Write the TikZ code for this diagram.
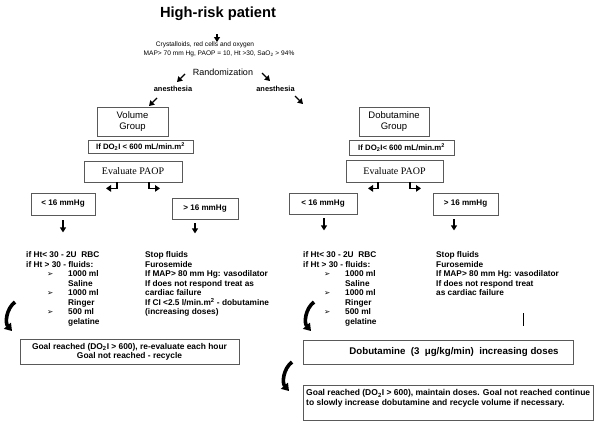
\documentclass[tikz,border=0pt]{standalone}
\usepackage{fontspec}
\setmainfont{Liberation Sans}
\newfontfamily\seriffam{Liberation Serif}
\newfontfamily\dejavufam{DejaVu Sans}
\usetikzlibrary{arrows.meta}
\newcommand\bulx{\makebox[42pt][l]{\hspace*{21pt}{\dejavufam\fontsize{7.5}{7.5}\selectfont ➢}}}
\newcommand\indx{\hspace*{42pt}}
\begin{document}
\begin{tikzpicture}[x=1pt,y=-1pt,
  box/.style={draw=black!65, line width=0.8pt, inner sep=0pt},
  arr/.style={line width=1.4pt, -{Triangle[length=5pt,width=6pt]}},
  bent/.style={line width=1.5pt, -{Triangle[length=5pt,width=6.5pt]}},
  curvy/.style={line width=3.6pt, -{Triangle[length=7pt,width=9pt]}},
  tiny/.style={font=\fontsize{6.6}{8}\selectfont, inner sep=0pt},
  body/.style={font=\bfseries\fontsize{8.3}{9.5}\selectfont, inner sep=0pt, align=left, anchor=north west},
  lab/.style={font=\bfseries\fontsize{7.4}{9}\selectfont, inner sep=0pt},
  small/.style={font=\bfseries\fontsize{8.1}{9}\selectfont},
]
\useasboundingbox[fill=white] (0,0) rectangle (600,423);

% title and top text
\node[font=\bfseries\fontsize{14.7}{16}\selectfont, inner sep=0pt] (title) at (218,13.5) {High-risk patient};
\node[tiny] (cry) at (205,44.5) {Crystalloids, red cells and oxygen};
\node[tiny] (map) at (219,53.5) {MAP> 70 mm Hg, PAOP = 10, Ht >30, SaO\textsubscript{2} > 94\%};
\coordinate (ta) at (217,34);
\coordinate (tb) at (217,42);
\draw[arr] (ta) -- (tb);
\node[font=\fontsize{9}{10}\selectfont, inner sep=0pt] (rand) at (223,72) {Randomization};
\node[lab] (anl) at (173,89) {anesthesia};
\node[lab] (anr) at (275.5,89) {anesthesia};
\coordinate (r1a) at (185,74); \coordinate (r1b) at (177,82);
\coordinate (r2a) at (262,73); \coordinate (r2b) at (270,81);
\coordinate (r3a) at (157,98); \coordinate (r3b) at (149,106);
\coordinate (r4a) at (295,96); \coordinate (r4b) at (303,104);
\draw[arr] (r1a) -- (r1b);
\draw[arr] (r2a) -- (r2b);
\draw[arr] (r3a) -- (r3b);
\draw[arr] (r4a) -- (r4b);

% left branch
\node[box, minimum width=71pt, minimum height=29pt, align=center, font=\fontsize{9.5}{11}\selectfont] (vg) at (132.5,121.5) {Volume\\Group};
\node[box, minimum width=105pt, minimum height=12.5pt, font=\bfseries\fontsize{7.8}{8}\selectfont] (dol) at (140.5,147) {If DO\textsubscript{2}I < 600 mL/min.m\textsuperscript{2}};
\node[box, minimum width=98pt, minimum height=21pt, font=\seriffam\fontsize{10}{12}\selectfont] (evl) at (133,171.5) {Evaluate PAOP};
\node[box, minimum width=64pt, minimum height=22pt, small] (ltl) at (63,204) {\raisebox{1.5pt}{< 16 mmHg}};
\node[box, minimum width=66pt, minimum height=21pt, small] (lgl) at (205,208.5) {> 16 mmHg};
\draw[bent] ([xshift=-16pt]evl.south) -- ++(0,6) -- ++(-11,0);
\draw[bent] ([xshift=16pt]evl.south) -- ++(0,6) -- ++(11,0);
\draw[arr] ([yshift=-5pt]ltl.south) -- ++(0,12);
\draw[arr] ([xshift=-10pt,yshift=-4pt]lgl.south) -- ++(0,10);

% right branch
\node[box, minimum width=70pt, minimum height=29pt, align=center, font=\fontsize{9.5}{11}\selectfont] (dg) at (394,121.5) {Dobutamine\\Group};
\node[box, minimum width=105pt, minimum height=15pt, font=\bfseries\fontsize{7.8}{8}\selectfont] (dor) at (401.5,148) {If DO\textsubscript{2}I< 600 mL/min.m\textsuperscript{2}};
\node[box, minimum width=97pt, minimum height=22pt, font=\seriffam\fontsize{10}{12}\selectfont] (evr) at (394.5,171) {Evaluate PAOP};
\node[box, minimum width=68pt, minimum height=21pt, small] (ltr) at (323,203.5) {\raisebox{1.5pt}{< 16 mmHg}};
\node[box, minimum width=65pt, minimum height=22pt, small] (lgr) at (465.5,204) {> 16 mmHg};
\draw[bent] ([xshift=-16.5pt]evr.south) -- ++(0,6) -- ++(-10,0);
\draw[bent] ([xshift=15.5pt]evr.south) -- ++(0,6) -- ++(11,0);
\draw[arr] ([xshift=1pt,yshift=-4pt]ltr.south) -- ++(0,12);
\draw[arr] ([xshift=-11.5pt,yshift=-4pt]lgr.south) -- ++(0,11);

% text blocks
\node[body] (lt1) at (26,251.5) {if Ht< 30 - 2U\ \ RBC\\ if Ht > 30 - fluids:\\ \bulx 1000 ml\\ \indx Saline\\ \bulx 1000 ml\\ \indx Ringer\\ \bulx 500 ml\\ \indx gelatine};
\node[body] (lt2) at (145,251.5) {Stop fluids\\ Furosemide\\ If MAP> 80 mm Hg: vasodilator\\ If does not respond treat as\\ cardiac failure\\ If CI <2.5 l/min.m\textsuperscript{2} - dobutamine\\ (increasing doses)};
\node[body] (rt1) at (303,251.5) {if Ht< 30 - 2U\ \ RBC\\ if Ht > 30 - fluids:\\ \bulx 1000 ml\\ \indx Saline\\ \bulx 1000 ml\\ \indx Ringer\\ \bulx 500 ml\\ \indx gelatine};
\node[body] (rt2) at (436,251.5) {Stop fluids\\ Furosemide\\ If MAP> 80 mm Hg: vasodilator\\ If does not respond treat\\ as cardiac failure};
\coordinate (bar1) at (523,313); \coordinate (bar2) at (523,326);
\draw[line width=0.9pt] (bar1) -- (bar2);

% curved arrows
\draw[curvy] (15,302) .. controls (6,309) and (5,323) .. (12,331);
\draw[curvy] (314,302) .. controls (305,309) and (304,323) .. (311,331);
\draw[curvy] (292,362) .. controls (283,369) and (282,383) .. (289,391);

% bottom boxes
\node[box, minimum width=219pt, minimum height=25pt, align=center, font=\bfseries\fontsize{8.4}{9.2}\selectfont] (gl) at (129.5,351.5) {Goal reached (DO\textsubscript{2}I > 600), re-evaluate each hour\\Goal not reached - recycle};
\node[box, minimum width=270pt, minimum height=24pt] (dd) at (438,352) {};
\node[font=\bfseries\fontsize{9.7}{11}\selectfont, inner sep=0pt] (ddt) at (454,352) {Dobutamine\ \ (3\ \ μg/kg/min)\ \ increasing doses};
\node[box, minimum width=290pt, minimum height=35pt] (gr) at (448,402.5) {};
\node[font=\bfseries\fontsize{8.5}{9.3}\selectfont, inner sep=0pt, align=left, anchor=north west] (grt) at (306,389.5) {Goal reached (DO\textsubscript{2}I > 600), maintain doses. Goal not reached continue\\to slowly increase dobutamine and recycle volume if necessary.};
\end{tikzpicture}
\end{document}
